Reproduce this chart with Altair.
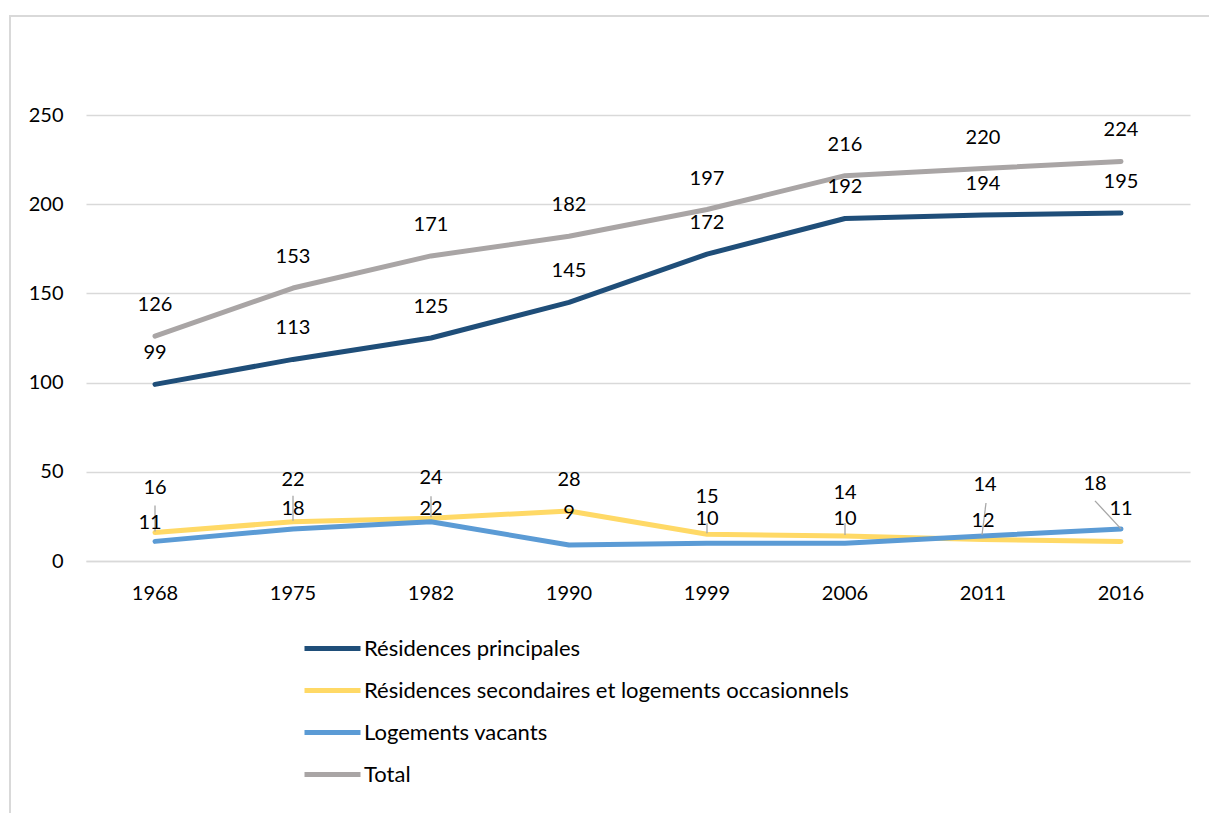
import altair as alt
import pandas as pd

# Census years and housing counts per category
years = ["1968", "1975", "1982", "1990", "1999", "2006", "2011", "2016"]
principales = [99, 113, 125, 145, 172, 192, 194, 195]
secondaires = [16, 22, 24, 28, 15, 14, 12, 11]
vacants = [11, 18, 22, 9, 10, 10, 14, 18]
total = [126, 153, 171, 182, 197, 216, 220, 224]

series_names = [
    "Résidences principales",
    "Résidences secondaires et logements occasionnels",
    "Logements vacants",
    "Total",
]
series_values = [principales, secondaires, vacants, total]
series_colors = ["#1f4e79", "#ffd966", "#5b9bd5", "#a9a5a5"]

W, H = 1104, 446
Y_MAX = 250
PX = Y_MAX / H  # data units per pixel on the value axis
FONT = "Lato"

# Pixel nudges (dx, dy) for value labels; default sits just above the point
DEFAULT_SHIFT = (0, -31)
LABEL_SHIFT = {
    series_names[1]: [(0, -44), (0, -42), (0, -40), (0, -31), (0, -37), (0, -43), (0, -19), (0, -32)],
    series_names[2]: [(-5, -18), (0, -20), (0, -13), (0, -32), (0, -24), (0, -24), (2, -51), (-26, -45)],
}
# Leader lines from moved labels back to their points: (series, year, top dx, top dy, end dx, end dy)
LEADERS = [
    (series_names[1], "1968", 0, -27, 0, -1),
    (series_names[1], "1975", 0, -26, 0, -1),
    (series_names[1], "1982", 0, -22, 0, -1),
    (series_names[1], "1999", 0, -11, 0, -1),
    (series_names[1], "2006", 0, -13, 0, -1),
    (series_names[2], "2011", 3, -33, -1, -1),
    (series_names[2], "2016", -26, -28, 0, 0),
]

rows, label_rows = [], []
for name, vals in zip(series_names, series_values):
    shifts = LABEL_SHIFT.get(name, [DEFAULT_SHIFT] * len(years))
    for yr, v, (dx, dy) in zip(years, vals, shifts):
        rows.append({"serie": name, "annee": yr, "valeur": v})
        label_rows.append({"serie": name, "annee": yr, "valeur": v, "dx": dx, "dy": dy})
data = pd.DataFrame(rows)
labels = pd.DataFrame(label_rows)
lookup = {(r["serie"], r["annee"]): r["valeur"] for r in rows}

x_enc = alt.X(
    "annee:N",
    sort=years,
    scale=alt.Scale(type="band", paddingInner=0, paddingOuter=0),
    axis=alt.Axis(
        title=None, labelAngle=0, ticks=False, grid=False, domain=True,
        domainColor="#d9d9d9", domainWidth=1.5, labelPadding=22,
    ),
)
y_enc = alt.Y(
    "valeur:Q",
    scale=alt.Scale(domain=[0, Y_MAX], nice=False),
    axis=alt.Axis(
        title=None, values=[0, 50, 100, 150, 200, 250], ticks=False, domain=False,
        gridColor="#d9d9d9", gridWidth=1.5, labelPadding=23,
    ),
)
color_enc = alt.Color(
    "serie:N",
    scale=alt.Scale(domain=series_names, range=series_colors),
    legend=alt.Legend(
        title=None, orient="none", legendX=216, legendY=503, direction="vertical",
        symbolType="stroke", symbolSize=3136, symbolStrokeWidth=5,
        labelFont=FONT, labelFontSize=22, labelColor="#000000", labelLimit=800,
        labelOffset=1, rowPadding=0,
    ),
)
x_plain = alt.X("annee:N", sort=years)

base = alt.Chart(data)
line_layers = [
    base.transform_filter(alt.datum.serie == name)
    .mark_line(strokeWidth=5, strokeCap="round", strokeJoin="round")
    .encode(x=x_enc, y=y_enc, color=color_enc)
    for name in series_names
]

# Leader lines, one rule per moved label
leader_layers = []
for name, yr, tdx, tdy, bdx, bdy in LEADERS:
    v = lookup[(name, yr)]
    leader_layers.append(
        alt.Chart(pd.DataFrame({"annee": [yr], "valeur": [v]}))
        .transform_calculate(
            haut=f"datum.valeur - ({tdy}) * {PX}",
            bas=f"datum.valeur - ({bdy}) * {PX}",
        )
        .mark_rule(color="#a6a6a6", strokeWidth=1.3, xOffset=tdx, x2Offset=bdx)
        .encode(x=x_plain, x2=alt.X2("annee:N"), y="haut:Q", y2="bas:Q")
    )

# Value labels, grouped by horizontal nudge
text_layers = []
for dx in sorted(labels["dx"].unique()):
    text_layers.append(
        alt.Chart(labels)
        .transform_filter(alt.datum.dx == int(dx))
        .transform_calculate(pos=f"datum.valeur - datum.dy * {PX}")
        .mark_text(font=FONT, fontSize=20, color="#000000", baseline="middle",
                   align="center", dx=int(dx))
        .encode(x=x_plain, y="pos:Q", text="valeur:Q")
    )

# Light grey frame around the whole figure
frame = (
    alt.Chart(pd.DataFrame({"a": [0]}))
    .mark_rect(fillOpacity=0, stroke="#d9d9d9", strokeWidth=2)
    .encode(
        x=alt.value(-76), x2=alt.value(W + 60),
        y=alt.value(-99), y2=alt.value(H + 320),
    )
)

chart = (
    alt.layer(frame, *line_layers, *leader_layers, *text_layers)
    .properties(
        width=W, height=H,
        autosize=alt.AutoSizeParams(type="none"),
        padding={"left": 86, "top": 115, "right": 19, "bottom": 252},
        background="white",
    )
    .configure_view(stroke=None)
    .configure_axis(labelFont=FONT, labelFontSize=20, labelColor="#000000")
)

chart.save("out.html", embed_options={"renderer": "svg", "actions": False})
